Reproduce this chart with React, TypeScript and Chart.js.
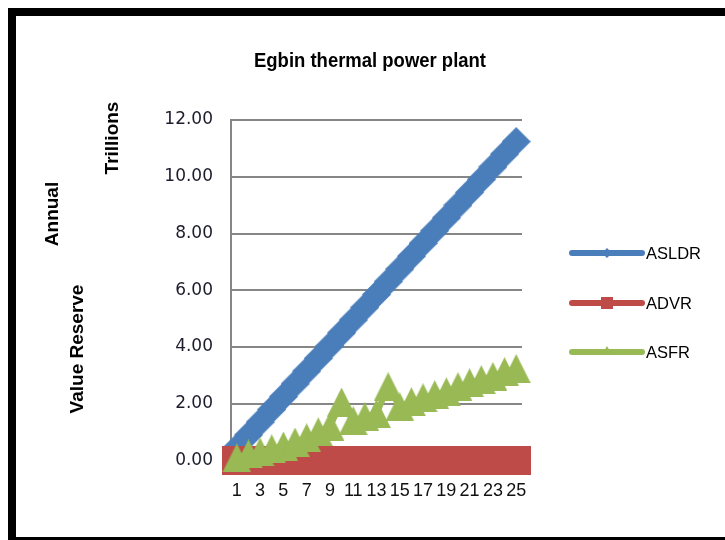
import { useEffect, useRef } from "react";
import { Chart, registerables } from "chart.js";

Chart.register(...registerables);

const chartTitle = "Egbin thermal power plant";
const axisTitleParts = ["Annual", "Value Reserve", "Trillions"];
const seriesNames = ["ASLDR", "ADVR", "ASFR"];
const seriesColors = ["#4A7EBB", "#BE4B48", "#98B954"];

const categories = [
  "1", "2", "3", "4", "5", "6", "7", "8", "9", "10", "11", "12", "13",
  "14", "15", "16", "17", "18", "19", "20", "21", "22", "23", "24", "25",
];

const asldr = [
  0.45, 0.9, 1.35, 1.8, 2.25, 2.7, 3.15, 3.6, 4.05, 4.5, 4.95, 5.4, 5.85,
  6.3, 6.75, 7.2, 7.65, 8.1, 8.55, 9.0, 9.45, 9.9, 10.35, 10.8, 11.24,
];

const advr = [
  0, 0, 0, 0, 0, 0, 0, 0, 0, 0, 0, 0, 0,
  0, 0, 0, 0, 0, 0, 0, 0, 0, 0, 0, 0,
];

const asfr = [
  0.09, 0.23, 0.3, 0.41, 0.51, 0.65, 0.8, 1.01, 1.2, 2.06, 1.4, 1.54, 1.65,
  2.6, 1.89, 2.07, 2.21, 2.32, 2.42, 2.6, 2.74, 2.85, 2.96, 3.13, 3.24,
];

const yMin = 0;
const yMax = 12;
const yStep = 2;

function makeMarker(kind: string, size: number, color: string) {
  const c = document.createElement("canvas");
  c.width = size;
  c.height = size;
  const g = c.getContext("2d")!;
  g.fillStyle = color;
  g.beginPath();
  if (kind === "triangle") {
    g.moveTo(size / 2, 0);
    g.lineTo(size, size);
    g.lineTo(0, size);
  } else if (kind === "diamond") {
    g.moveTo(size / 2, 0);
    g.lineTo(size, size / 2);
    g.lineTo(size / 2, size);
    g.lineTo(0, size / 2);
  } else {
    g.rect(0, 0, size, size);
  }
  g.closePath();
  g.fill();
  return c;
}

const decorPlugin = {
  id: "decor",
  afterDraw(chart: any) {
    const ctx = chart.ctx as CanvasRenderingContext2D;
    ctx.save();
    ctx.fillStyle = "#000";
    // Title (condensed to match the narrow original face)
    ctx.font = 'bold 20px "Liberation Sans", Arial, sans-serif';
    ctx.textAlign = "center";
    ctx.textBaseline = "middle";
    const tw = ctx.measureText(chartTitle).width;
    const sx = Math.min(1, 232 / tw);
    ctx.save();
    ctx.translate(354, 45);
    ctx.scale(sx, 1);
    ctx.fillText(chartTitle, 0, 0);
    ctx.restore();

    // Rotated axis title parts
    const parts: [string, number, number][] = [
      [axisTitleParts[0], 37, 198],
      [axisTitleParts[1], 62, 333],
      [axisTitleParts[2], 97, 122],
    ];
    ctx.font = 'bold 19px "Liberation Sans", Arial, sans-serif';
    for (const [t, x, y] of parts) {
      ctx.save();
      ctx.translate(x, y);
      ctx.rotate(-Math.PI / 2);
      ctx.fillText(t, 0, 0);
      ctx.restore();
    }

    // Legend
    const ys = [237, 287, 336];
    const x0 = 556;
    const x1 = 626;
    ctx.font = '16.5px "Liberation Sans", Arial, sans-serif';
    ctx.textAlign = "left";
    for (let i = 0; i < 3; i++) {
      const y = ys[i];
      ctx.strokeStyle = seriesColors[i];
      ctx.lineWidth = 6;
      ctx.lineCap = "round";
      ctx.beginPath();
      ctx.moveTo(x0, y);
      ctx.lineTo(x1, y);
      ctx.stroke();
      const mx = (x0 + x1) / 2;
      ctx.fillStyle = seriesColors[i];
      ctx.beginPath();
      if (i === 0) {
        ctx.moveTo(mx, y - 5);
        ctx.lineTo(mx + 5, y);
        ctx.lineTo(mx, y + 5);
        ctx.lineTo(mx - 5, y);
      } else if (i === 1) {
        ctx.rect(mx - 6, y - 6, 12, 12);
      } else {
        ctx.moveTo(mx, y - 6);
        ctx.lineTo(mx + 5, y + 3);
        ctx.lineTo(mx - 5, y + 3);
      }
      ctx.closePath();
      ctx.fill();
      ctx.fillStyle = "#000";
      ctx.fillText(seriesNames[i], 630, y + 1);
    }
    ctx.restore();
  },
};

export default function App() {
  const ref = useRef<HTMLCanvasElement | null>(null);

  useEffect(() => {
    document.body.style.overflow = "hidden";
    const canvas = ref.current!;
    const mSize = 29;
    const chart = new Chart(canvas, {
      type: "line",
      data: {
        labels: categories,
        datasets: [
          {
            label: seriesNames[0],
            data: asldr,
            borderColor: seriesColors[0],
            backgroundColor: seriesColors[0],
            borderWidth: 12,
            pointStyle: makeMarker("diamond", mSize, seriesColors[0]) as any,
            pointRadius: 14,
            tension: 0,
            clip: false as any,
            order: 3,
          },
          {
            label: seriesNames[1],
            data: advr,
            borderColor: seriesColors[1],
            backgroundColor: seriesColors[1],
            borderWidth: 12,
            pointStyle: makeMarker("square", mSize, seriesColors[1]) as any,
            pointRadius: 14,
            tension: 0,
            clip: false as any,
            order: 2,
          },
          {
            label: seriesNames[2],
            data: asfr,
            borderColor: seriesColors[2],
            backgroundColor: seriesColors[2],
            borderWidth: 6,
            pointStyle: makeMarker("triangle", mSize, seriesColors[2]) as any,
            pointRadius: 14,
            tension: 0,
            clip: false as any,
            order: 1,
          },
        ],
      },
      options: {
        animation: false,
        responsive: false,
        maintainAspectRatio: false,
        devicePixelRatio: 1,
        layout: { padding: { left: 0, top: 104, right: 203, bottom: 36.5 } },
        plugins: {
          legend: { display: false },
          title: { display: false },
          tooltip: { enabled: false },
        },
        scales: {
          x: {
            type: "category",
            offset: true,
            grid: { display: false, drawTicks: false },
            border: { display: true, color: "#868686", width: 2 },
            ticks: {
              autoSkip: false,
              maxRotation: 0,
              minRotation: 0,
              padding: 20,
              color: "#111",
              font: { family: '"Liberation Sans", Arial, sans-serif', size: 18 },
              callback: (_v: any, i: number) => (i % 2 === 0 ? categories[i] : ""),
            },
            afterFit: (s: any) => {
              s.height = 40;
            },
          },
          y: {
            min: yMin,
            max: yMax,
            grid: { color: "#868686", lineWidth: 2, drawTicks: false },
            border: { display: true, color: "#868686", width: 2 },
            ticks: {
              stepSize: yStep,
              padding: 18,
              color: "#1c1c2c",
              font: { family: '"DejaVu Sans", Verdana, sans-serif', size: 17 },
              callback: (v: any) => Number(v).toFixed(2),
            },
            afterFit: (s: any) => {
              s.width = 215;
            },
          },
        },
      },
      plugins: [decorPlugin],
    });
    return () => chart.destroy();
  }, []);

  return (
    <div
      style={{
        position: "fixed",
        left: 8,
        top: 8,
        width: 717,
        height: 537,
        boxSizing: "border-box",
        borderTop: "8px solid #000",
        borderLeft: "8px solid #000",
        borderBottom: "8px solid #000",
        background: "#fff",
      }}
    >
      <canvas ref={ref} width={709} height={521} style={{ display: "block", width: 709, height: 521 }} />
    </div>
  );
}
